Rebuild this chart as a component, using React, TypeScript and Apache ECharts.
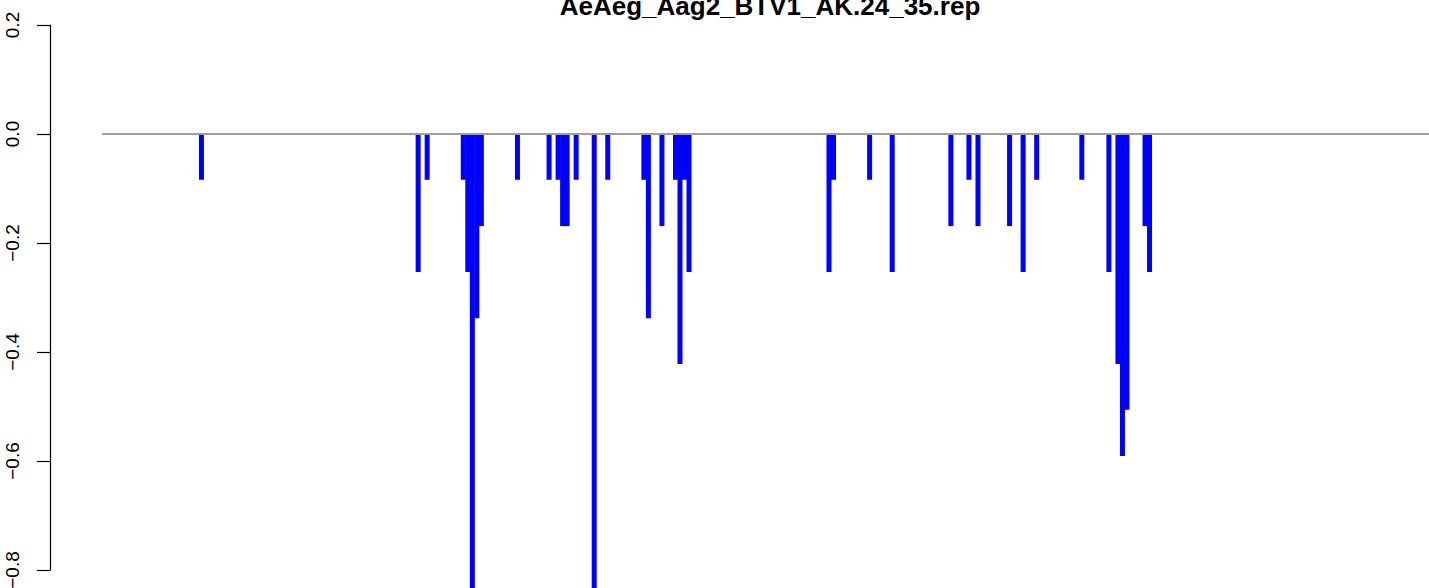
import React, { useEffect, useRef } from "react";
import * as echarts from "echarts";

// Positions along the sequence (1-based) that carry a value
const barPositions = [
  22, 70, 72, 80, 81, 82, 83, 84, 92, 99, 101, 102, 103, 105, 109, 112,
  120, 121, 124, 127, 128, 129, 130, 161, 162, 170, 175, 188, 192, 194,
  201, 204, 207, 217, 223, 225, 226, 227, 231, 232,
];
// Values at those positions
const barValues = [
  -0.084, -0.253, -0.084, -0.084, -0.253, -0.929, -0.338, -0.169, -0.084, -0.084,
  -0.084, -0.169, -0.169, -0.084, -0.929, -0.084, -0.084, -0.338, -0.169, -0.084,
  -0.422, -0.084, -0.253, -0.253, -0.084, -0.084, -0.253, -0.169, -0.084, -0.169,
  -0.169, -0.253, -0.084, -0.084, -0.253, -0.422, -0.591, -0.506, -0.169, -0.253,
];
const seqLength = 309;
const yTicks = [-0.8, -0.6, -0.4, -0.2, 0.0, 0.2];
const titleText = "AeAeg_Aag2_BTV1_AK.24_35.rep";

// visible x window of the plot (cropped on the right)
const X_MIN = -11.54;
const X_MAX = 293.9;

export default function App() {
  const ref = useRef<HTMLDivElement>(null);
  useEffect(() => {
    if (!ref.current) return;
    const chart = echarts.init(ref.current, undefined, { renderer: "svg" });
    const font = "'Liberation Sans', Arial, Helvetica, sans-serif";
    chart.setOption({
      animation: false,
      backgroundColor: "#ffffff",
      grid: {
        left: 50,
        right: 0,
        top: 25,
        bottom: 18,
        containLabel: false,
        outerBoundsMode: "none",
      },
      xAxis: {
        type: "value",
        min: X_MIN,
        max: X_MAX,
        show: false,
        splitLine: { show: false },
      },
      yAxis: {
        type: "value",
        min: yTicks[0],
        max: yTicks[yTicks.length - 1],
        interval: 0.2,
        splitLine: { show: false },
        axisLine: { show: true, onZero: false, lineStyle: { color: "#000", width: 1.2 } },
        axisTick: { show: true, length: 13, lineStyle: { color: "#000", width: 1.2 } },
        axisLabel: {
          rotate: 90,
          margin: 28,
          fontSize: 19,
          fontFamily: font,
          color: "#000",
          hideOverlap: false,
          formatter: (v: number) => v.toFixed(1).replace("-", "\u2212"),
        },
      },
      graphic: [
        {
          type: "text",
          x: 770,
          y: 6,
          style: {
            text: titleText,
            font: `bold 26px ${font}`,
            fill: "#000",
            textAlign: "center",
            textVerticalAlign: "middle",
          },
        },
      ],
      series: [
        {
          type: "bar",
          data: barPositions.map((p, i) => [p, barValues[i]]),
          barWidth: 5,
          clip: false,
          itemStyle: { color: "#0000FF" },
          z: 2,
        },
        {
          type: "line",
          data: [
            [0, 0],
            [seqLength, 0],
          ],
          symbol: "none",
          lineStyle: { color: "#9E9E9E", width: 1.8 },
          z: 3,
        },
      ],
    });
    return () => chart.dispose();
  }, []);
  return (
    <div
      ref={ref}
      style={{ position: "absolute", left: 0, top: 0, width: 1429, height: 588 }}
    />
  );
}
